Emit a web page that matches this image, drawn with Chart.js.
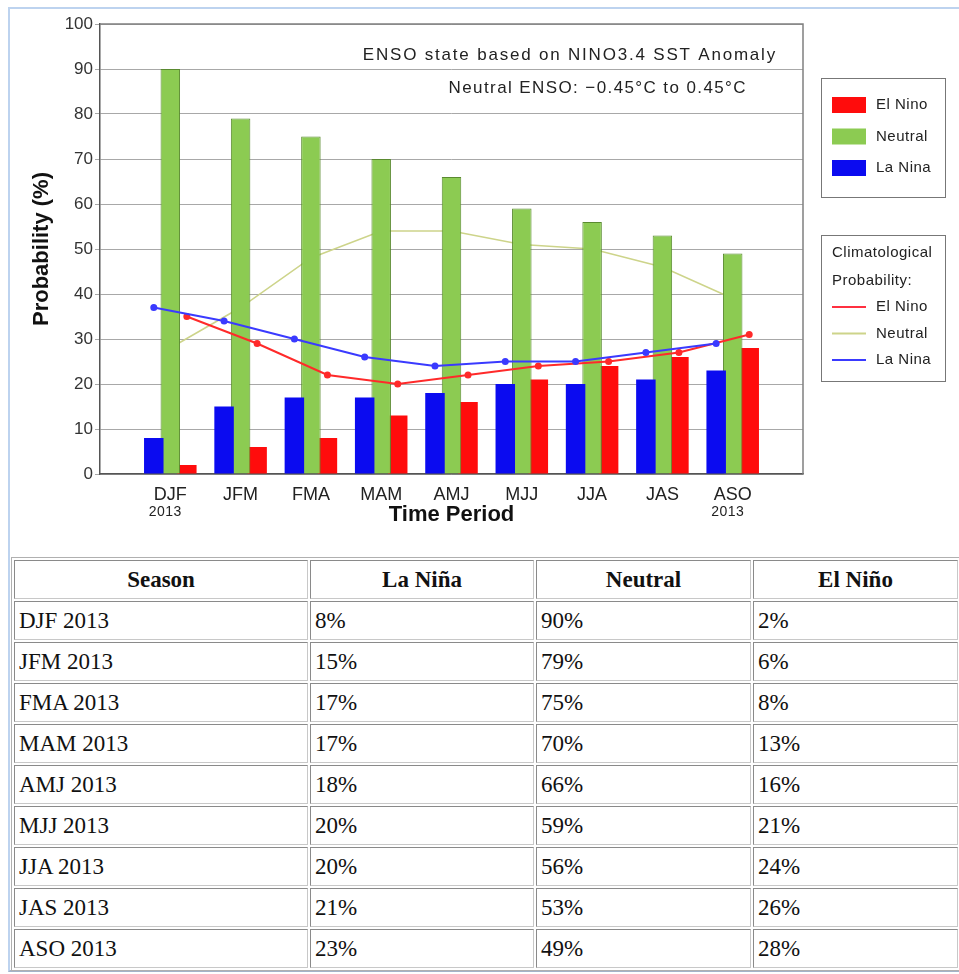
<!DOCTYPE html>
<html>
<head>
<meta charset="utf-8">
<script src="https://cdn.jsdelivr.net/npm/chart.js@4.4.1/dist/chart.umd.min.js"></script>
<style>
body { margin:0; background:#fff; }
#frame { position:absolute; left:8px; top:7px; width:960px; height:961px;
  border-top:2px solid #bdd3ef; border-left:2px solid #bdd3ef; border-bottom:2px solid #a3b3c9; }
#chartCanvas { position:absolute; left:0; top:0; }
#probTable { position:absolute; left:11px; top:557px; width:950px;
  border-collapse:separate; border-spacing:2px; border:1px solid #b0b0b0;
  font-family:"Liberation Serif","Times New Roman",serif; font-size:23px; color:#111; }
#probTable td, #probTable th { height:37px; padding:0 4px; text-align:left;
  border:1px solid; border-color:#8a8a8a #c8c8c8 #c8c8c8 #8a8a8a; }
#probTable th { text-align:center; font-weight:bold; }
</style>
</head>
<body>
<div id="frame"></div>
<canvas id="chartCanvas" width="959" height="548"></canvas>
<table id="probTable">
  <colgroup><col style="width:294px"><col style="width:224px"><col style="width:215px"><col></colgroup>
  <thead><tr id="headRow"></tr></thead>
  <tbody id="tableBody"></tbody>
</table>
<script>
// Chart values

var categories = ['DJF', 'JFM', 'FMA', 'MAM', 'AMJ', 'MJJ', 'JJA', 'JAS', 'ASO']
var yearLabels = ['2013', '', '', '', '', '', '', '', '2013']
var tableYear = '2013'
var laNina = [8, 15, 17, 17, 18, 20, 20, 21, 23]
var neutral = [90, 79, 75, 70, 66, 59, 56, 53, 49]
var elNino = [2, 6, 8, 13, 16, 21, 24, 26, 28]
var climoElNino = [35, 29, 22, 20, 22, 24, 25, 27, 31]
var climoNeutral = [28, 37, 48, 54, 54, 51, 50, 46, 39]
var climoLaNina = [37, 34, 30, 26, 24, 25, 25, 27, 29]
var yTicks = [0, 10, 20, 30, 40, 50, 60, 70, 80, 90, 100]
var tableHeaders = ['Season', 'La Niña', 'Neutral', 'El Niño']
var noteLines = ['ENSO state based on NINO3.4 SST Anomaly', 'Neutral ENSO: \u22120.45\u00B0C to 0.45\u00B0C']

var red = '#ff0c0c'
var green = '#8ccb52'
var blue = '#0b0bf0'

var catPct = 0.705
var barPct = 1.18
var shift = catPct / 3

function pts(arr, off) {
    return arr.map(function(v, i) { return { x: i + 1 + off, y: v } })
}

// table from the same arrays
var headRow = document.getElementById('headRow')
tableHeaders.forEach(function(h) {
    var th = document.createElement('th')
    th.textContent = h
    headRow.appendChild(th)
})
var body = document.getElementById('tableBody')
categories.forEach(function(c, i) {
    var tr = document.createElement('tr')
    ;[c + ' ' + tableYear, laNina[i] + '%', neutral[i] + '%', elNino[i] + '%'].forEach(function(t) {
        var td = document.createElement('td')
        td.textContent = t
        tr.appendChild(td)
    })
    body.appendChild(tr)
})

Chart.defaults.font.family = '"Liberation Sans", Arial, sans-serif'

// frame, notes, year labels and the two legend boxes
var extras = {
    id: 'extras',
    beforeDatasetsDraw: function(chart) {
        var a = chart.chartArea, ctx = chart.ctx
        ctx.save()
        ctx.strokeStyle = '#808080'
        ctx.lineWidth = 1.5
        ctx.beginPath()
        ctx.moveTo(a.left, a.top)
        ctx.lineTo(a.right, a.top)
        ctx.lineTo(a.right, a.bottom)
        ctx.stroke()
        ctx.restore()
    },
    afterDraw: function(chart) {
        var ctx = chart.ctx, x = chart.scales.x
        ctx.save()
        ctx.fillStyle = '#222'
        ctx.textBaseline = 'middle'

        ctx.font = '17px "Liberation Sans", Arial'
        ctx.textAlign = 'right'
        ctx.letterSpacing = '1.8px'
        ctx.fillText(noteLines[0], 777, 55)
        ctx.letterSpacing = '1.4px'
        ctx.fillText(noteLines[1], 747, 88)

        ctx.font = '14px "Liberation Sans", Arial'
        ctx.letterSpacing = '0.5px'
        ctx.textAlign = 'center'
        yearLabels.forEach(function(t, i) {
            if (t) ctx.fillText(t, x.getPixelForValue(i + 1) - 5, 512)
        })

        ctx.strokeStyle = '#777'
        ctx.lineWidth = 1
        ctx.strokeRect(821.5, 78.5, 124, 119)
        ctx.strokeRect(821.5, 235.5, 124, 146)

        ctx.font = '15px "Liberation Sans", Arial'
        ctx.letterSpacing = '0.5px'
        ctx.textAlign = 'left'
        var boxes = [[red, 'El Nino'], [green, 'Neutral'], [blue, 'La Nina']]
        boxes.forEach(function(b, i) {
            var y = 105 + i * 31.5
            ctx.fillStyle = b[0]
            ctx.fillRect(832, y - 8, 34, 16)
            ctx.fillStyle = '#222'
            ctx.fillText(b[1], 876, y)
        })
        ctx.fillText('Climatological', 832, 253)
        ctx.fillText('Probability:', 832, 281)
        var lines = [['#ff3040', 'El Nino'], ['#cdd48a', 'Neutral'], ['#3a3aff', 'La Nina']]
        lines.forEach(function(l, i) {
            var y = 307 + i * 26.5
            ctx.strokeStyle = l[0]
            ctx.lineWidth = 2
            ctx.beginPath()
            ctx.moveTo(832, y)
            ctx.lineTo(866, y)
            ctx.stroke()
            ctx.fillStyle = '#222'
            ctx.fillText(l[1], 876, y)
        })
        ctx.restore()
    }
}

var canvas = document.getElementById('chartCanvas')
var ctx = canvas.getContext('2d')

var myChart = new Chart(ctx, {
    type: 'bar',
    data: {
        datasets: [
            { type: 'line', label: 'Climatological La Nina', data: pts(climoLaNina, -shift),
              borderColor: '#3a3aff', backgroundColor: '#3a3aff', borderWidth: 2, pointRadius: 2.5, order: 0 },
            { type: 'line', label: 'Climatological El Nino', data: pts(climoElNino, shift),
              borderColor: '#ff2a2a', backgroundColor: '#ff2a2a', borderWidth: 2, pointRadius: 2.5, order: 0 },
            { label: 'La Nina', data: pts(laNina, 0), backgroundColor: blue, order: 1 },
            { label: 'Neutral', data: pts(neutral, 0), backgroundColor: green,
              borderColor: '#5a8a30', borderWidth: 1, order: 1 },
            { label: 'El Nino', data: pts(elNino, 0), backgroundColor: red, order: 1 },
            { type: 'line', label: 'Climatological Neutral', data: pts(climoNeutral, 0),
              borderColor: '#cdd48a', borderWidth: 1.5, pointRadius: 0, order: 2 }
        ]
    },
    options: {
        responsive: false,
        animation: false,
        categoryPercentage: catPct,
        barPercentage: barPct,
        layout: { padding: { left: 0, right: 156, top: 24, bottom: 18 } },
        plugins: { legend: { display: false }, tooltip: { enabled: false } },
        scales: {
            x: {
                type: 'linear', min: 0, max: 10, offset: false,
                afterFit: function(s) { s.height = 56 },
                afterBuildTicks: function(s) {
                    s.ticks = categories.map(function(c, i) { return { value: i + 1 } })
                },
                grid: { display: false, offset: false },
                border: { color: '#555', width: 1.5 },
                ticks: {
                    autoSkip: false, maxRotation: 0, padding: 2,
                    font: { size: 18 }, color: '#222',
                    callback: function(v) { return categories[v - 1] || '' }
                },
                title: { display: true, text: 'Time Period', font: { size: 22, weight: 'bold' },
                         color: '#111', padding: { top: 0, bottom: 2 } }
            },
            y: {
                min: 0, max: 100,
                afterFit: function(s) { s.width = 100 },
                afterBuildTicks: function(s) {
                    s.ticks = yTicks.map(function(v) { return { value: v } })
                },
                grid: { color: '#a8a8a8', lineWidth: 1, tickLength: 5 },
                border: { color: '#555', width: 1.5 },
                ticks: { font: { size: 17 }, color: '#333', padding: 2 },
                title: { display: true, text: 'Probability (%)', font: { size: 22, weight: 'bold' },
                         color: '#111', padding: { top: 29, bottom: 0 } }
            }
        }
    },
    plugins: [extras]
})
</script>
</body>
</html>
